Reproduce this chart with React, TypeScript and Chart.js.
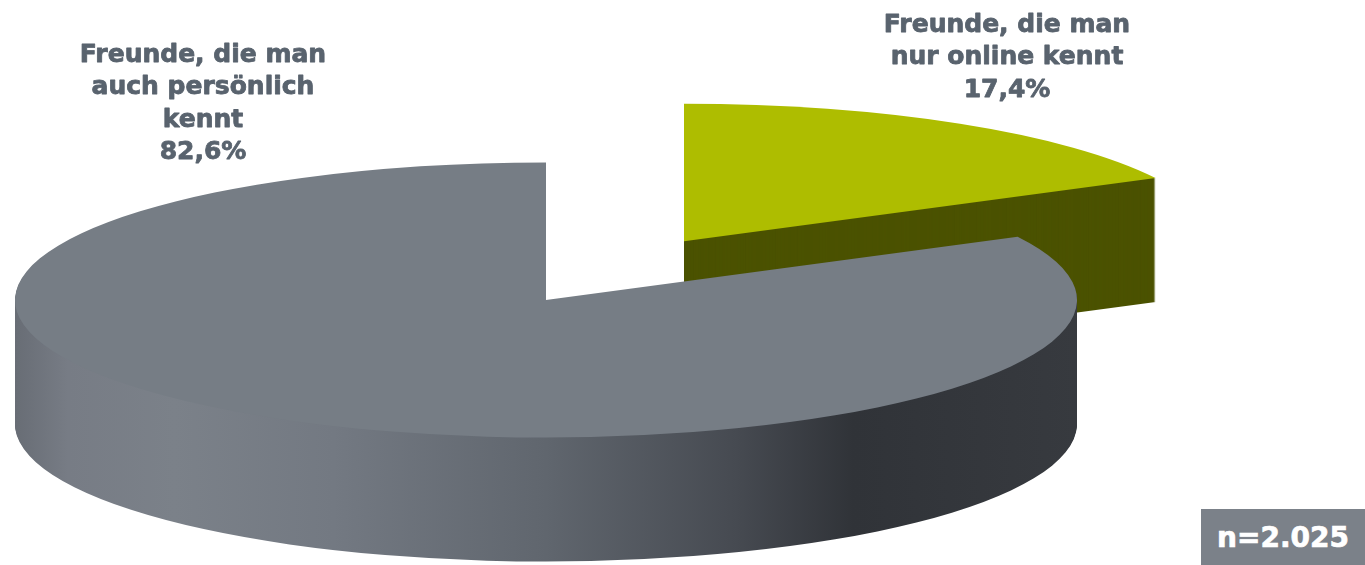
import React, { useEffect, useRef } from "react";
import { Chart, registerables } from "chart.js";

Chart.register(...registerables);

// ---- data ----
const categories = ["Freunde, die man nur online kennt", "Freunde, die man auch persönlich kennt"];
const labelLines = [
  ["Freunde, die man", "nur online kennt"],
  ["Freunde, die man", "auch persönlich", "kennt"],
];
const values = [17.4, 82.6];
const valueLabels = ["17,4%", "82,6%"];
const sampleSize = "n=2.025";

// ---- styles ----
const topColors = ["#aebd00", "#767d85"];
const sideColors = ["#4b5200", null];
const explodeFrac = [0.5, 0];
const RX = 531;
const RY = 137.5;
const DEPTH = 124;
const TEXT_COLOR = "#59636e";
const FONT = "bold 25px 'DejaVu Sans', Verdana, sans-serif";
const labelPos = [
  { x: 1007, y: 32 },
  { x: 203, y: 62 },
];
const LINE_H = 32.4;

const pie3d = {
  id: "pie3d",
  beforeDatasetsDraw(chart: any) {
    const ctx: CanvasRenderingContext2D = chart.ctx;
    const meta = chart.getDatasetMeta(0);
    meta.data.forEach((arc: any, i: number) => {
      const { x, y, startAngle, endAngle, outerRadius } = arc.getProps(
        ["x", "y", "startAngle", "endAngle", "outerRadius"],
        true
      );
      const mid = (startAngle + endAngle) / 2;
      const ex = Math.cos(mid) * explodeFrac[i] * outerRadius;
      const ey = Math.sin(mid) * explodeFrac[i] * outerRadius;
      const sx = RX / outerRadius;
      const sy = RY / outerRadius;
      const path = (dy: number) => {
        ctx.save();
        ctx.translate(x, y + dy);
        ctx.scale(sx, sy);
        ctx.beginPath();
        ctx.moveTo(ex, ey);
        ctx.arc(ex, ey, outerRadius, startAngle, endAngle);
        ctx.closePath();
        ctx.restore();
      };
      let side: any = sideColors[i];
      if (!side) {
        const g = ctx.createLinearGradient(x - RX, 0, x + RX, 0);
        g.addColorStop(0, "#686d75");
        g.addColorStop(0.05, "#777c85");
        g.addColorStop(0.15, "#7b8189");
        g.addColorStop(0.3, "#737982");
        g.addColorStop(0.5, "#60666e");
        g.addColorStop(0.68, "#464a51");
        g.addColorStop(0.79, "#303338");
        g.addColorStop(1, "#373a3f");
        side = g;
      }
      ctx.save();
      ctx.fillStyle = side;
      for (let d = DEPTH; d > 0; d--) {
        path(d);
        ctx.fill();
      }
      path(0);
      ctx.fillStyle = topColors[i];
      ctx.fill();
      ctx.restore();
    });
    return false;
  },
  afterDraw(chart: any) {
    const ctx: CanvasRenderingContext2D = chart.ctx;
    ctx.save();
    ctx.font = FONT;
    ctx.fillStyle = TEXT_COLOR;
    ctx.strokeStyle = TEXT_COLOR;
    ctx.lineWidth = 0.8;
    ctx.lineJoin = "round";
    ctx.textAlign = "center";
    ctx.textBaseline = "alphabetic";
    labelLines.forEach((lines, i) => {
      const all = [...lines, valueLabels[i]];
      all.forEach((t, k) => {
        const ty = labelPos[i].y + k * LINE_H;
        ctx.fillText(t, labelPos[i].x, ty);
        ctx.strokeText(t, labelPos[i].x, ty);
      });
    });
    ctx.restore();
  },
};

export default function App() {
  const ref = useRef<HTMLCanvasElement>(null);
  useEffect(() => {
    if (!ref.current) return;
    const chart = new Chart(ref.current, {
      type: "pie",
      data: {
        labels: categories,
        datasets: [
          {
            data: values,
            backgroundColor: topColors,
            borderWidth: 0,
          },
        ],
      },
      options: {
        responsive: false,
        animation: false,
        events: [],
        layout: { padding: { left: 0, right: 273, top: 35, bottom: 0 } },
        plugins: {
          legend: { display: false },
          tooltip: { enabled: false },
        },
      },
      plugins: [pie3d],
    });
    return () => chart.destroy();
  }, []);
  return (
    <div style={{ position: "absolute", left: 0, top: 0, width: 1365, height: 565, background: "#fff" }}>
      <canvas ref={ref} width={1365} height={565} style={{ display: "block" }} />
      <div
        style={{
          position: "absolute",
          left: 1201,
          top: 509,
          width: 164,
          height: 56,
          background: "#7b8189",
          color: "#fff",
          font: "bold 28px 'DejaVu Sans', Verdana, sans-serif",
          WebkitTextStroke: "0.7px #fff",
          display: "flex",
          alignItems: "center",
          justifyContent: "center",
        }}
      >
        {sampleSize}
      </div>
    </div>
  );
}
